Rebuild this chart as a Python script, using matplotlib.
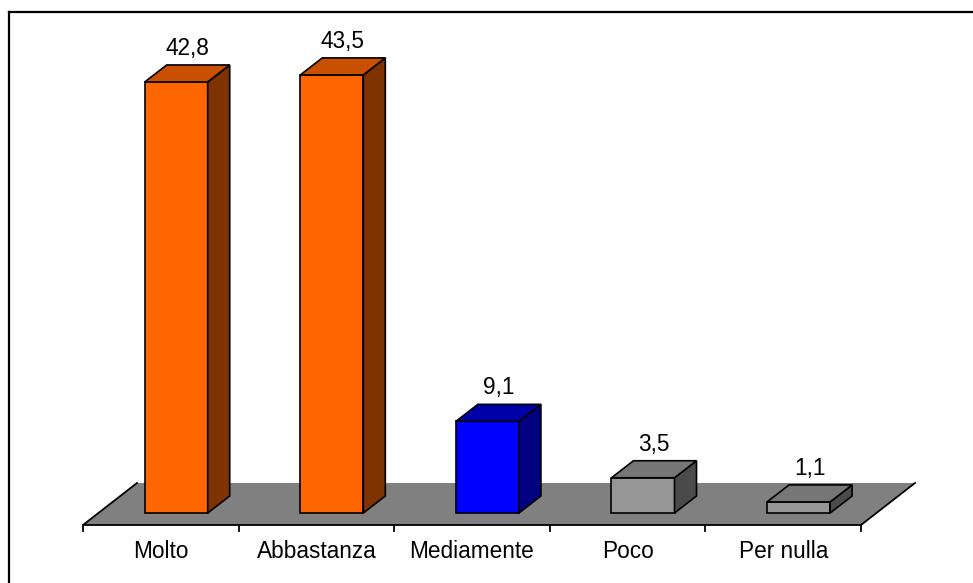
import matplotlib
matplotlib.use("Agg")
import matplotlib.pyplot as plt
from matplotlib.patches import Polygon
from matplotlib.lines import Line2D

categories = ["Molto", "Abbastanza", "Mediamente", "Poco", "Per nulla"]
values = [42.8, 43.5, 9.1, 3.5, 1.1]
front_colors = ["#FF6600", "#FF6600", "#0000FF", "#969696", "#969696"]
top_colors = ["#C85000", "#C85000", "#0000A8", "#767676", "#767676"]
side_colors = ["#7F3300", "#7F3300", "#000080", "#4B4B4B", "#4B4B4B"]

plt.rcParams["font.family"] = ["Liberation Sans", "DejaVu Sans"]

W, H = 973, 583
fig = plt.figure(figsize=(W / 100, H / 100), dpi=100)
ax = fig.add_axes([0, 0, 1, 1])
ax.set_xlim(-1.0334, 5.2198)
ax.set_ylim(-6.95, 50.94)
ax.axis("off")

# projected depth of the floor and of each bar (data units)
depth_x, depth_y = 0.347, 4.17
bar_shift_x, bar_shift_y = 0.099, 1.19     # bar front sits this far back from floor front
bar_dx, bar_dy = 0.1414, 1.69
bar_w = 0.405
floor_y = -bar_shift_y

n = len(categories)
floor = [(-0.5, floor_y), (n - 0.5, floor_y),
         (n - 0.5 + depth_x, floor_y + depth_y), (-0.5 + depth_x, floor_y + depth_y)]
ax.add_patch(Polygon(floor, closed=True, facecolor="#808080", edgecolor="none"))
ax.plot([-0.5 + depth_x, -0.5, n - 0.5, n - 0.5 + depth_x],
        [floor_y + depth_y, floor_y, floor_y, floor_y + depth_y],
        color="black", lw=1.3, solid_joinstyle="miter")

# category ticks and labels
for i in range(n + 1):
    ax.plot([i - 0.5, i - 0.5], [floor_y, floor_y - 0.6], color="black", lw=1.3)
for i, cat in enumerate(categories):
    ax.text(i, -3.87, cat, ha="center", va="center", fontsize=16.3)

for i, v in enumerate(values):
    x0 = i + bar_shift_x - bar_w / 2
    x1 = x0 + bar_w
    front = [(x0, 0), (x1, 0), (x1, v), (x0, v)]
    top = [(x0, v), (x1, v), (x1 + bar_dx, v + bar_dy), (x0 + bar_dx, v + bar_dy)]
    side = [(x1, 0), (x1 + bar_dx, bar_dy), (x1 + bar_dx, v + bar_dy), (x1, v)]
    for pts, fc in ((front, front_colors[i]), (side, side_colors[i]), (top, top_colors[i])):
        ax.add_patch(Polygon(pts, closed=True, facecolor=fc, edgecolor="black",
                             lw=1.2, joinstyle="miter"))
    ax.text(x0 + (bar_w + bar_dx) / 2, v + bar_dy + 1.65,
            f"{v:.1f}".replace(".", ","), ha="center", va="center", fontsize=16.3)

# chart frame (left and top edges)
fig.add_artist(Line2D([9 / W, 9 / W], [0, 1 - 12 / H], transform=fig.transFigure,
                      color="black", lw=1.6))
fig.add_artist(Line2D([9 / W, 1], [1 - 12 / H, 1 - 12 / H], transform=fig.transFigure,
                      color="black", lw=1.6))

fig.savefig("out.png", dpi=100)
